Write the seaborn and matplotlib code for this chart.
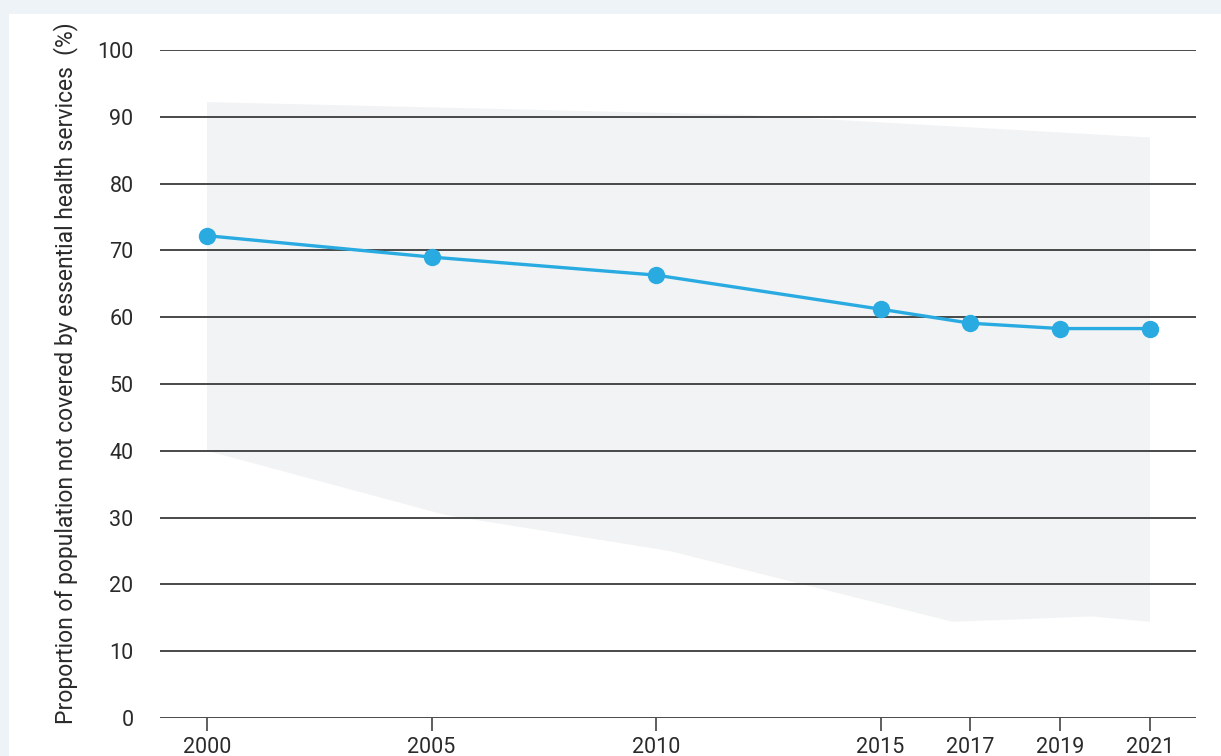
import matplotlib
matplotlib.use("Agg")
import matplotlib.pyplot as plt
from matplotlib.patches import Rectangle
import seaborn as sns
import pandas as pd

# ---- data ----
years = [2000, 2005, 2010, 2015, 2017, 2019, 2021]
not_covered = [72.2, 69.0, 66.3, 61.2, 59.1, 58.3, 58.3]

band_upper_years = [2000, 2012, 2021]
band_upper = [92.2, 90.3, 86.9]
band_lower_years = [2000, 2005.3, 2010.3, 2016.6, 2019.7, 2021]
band_lower = [40.0, 30.4, 25.0, 14.4, 15.2, 14.4]

yticks = [0, 10, 20, 30, 40, 50, 60, 70, 80, 90, 100]
ylabel = "Proportion of population not covered by essential health services"

# ---- style ----
sns.set_theme(style="white")
plt.rcParams["font.family"] = ["Roboto", "DejaVu Sans"]

W, H = 1221, 756
fig = plt.figure(figsize=(W / 100, H / 100), dpi=100)
fig.patch.set_facecolor("#eef3f8")
fig.patches.append(Rectangle((9 / W, 0), 1, 1 - 14 / H, transform=fig.transFigure,
                             facecolor="white", edgecolor="none", zorder=-5))

ax = fig.add_axes([160 / W, 1 - 718 / H, (1196 - 160) / W, (718 - 50) / H])
ax.set_facecolor("none")
ax.set_zorder(2)

# band
poly_x = list(band_upper_years) + list(reversed(band_lower_years))
poly_y = list(band_upper) + list(reversed(band_lower))
ax.fill(poly_x, poly_y, color="#f2f3f5", lw=0, zorder=1)

# grid
for v in yticks:
    ax.axhline(v, color="#3a3a3a", lw=1.3, zorder=2)

df = pd.DataFrame({"year": years, "value": not_covered})
sns.lineplot(data=df, x="year", y="value", ax=ax, color="#29abe2", lw=2.4,
             marker="o", markersize=12.5, markeredgewidth=0, zorder=4)

ax.set_ylim(0, 100)
ax.set_xlim(2000 - 47 / 44.86, 2021 + 46 / 44.86)
ax.set_yticks(yticks)
ax.set_yticklabels([str(v) for v in yticks])
ax.set_xticks(years)
ax.set_xticklabels([str(y) for y in years])
for s in ax.spines.values():
    s.set_visible(False)
ax.tick_params(axis="y", length=0, pad=19, labelsize=15.5, labelcolor="#2a2a2a")
ax.tick_params(axis="x", bottom=True, direction="out", length=9, width=1.1,
               color="#333333", pad=5, labelsize=15.5, labelcolor="#2a2a2a")
ax.set_xlabel("")
ax.set_ylabel("")
ax.grid(False)

fig.text(66 / W, 1 - 373 / H, ylabel + "  (%)", rotation=90, ha="center",
         va="center", fontsize=16.5, color="#2a2a2a")

fig.savefig("out.png", dpi=100, facecolor=fig.get_facecolor())
